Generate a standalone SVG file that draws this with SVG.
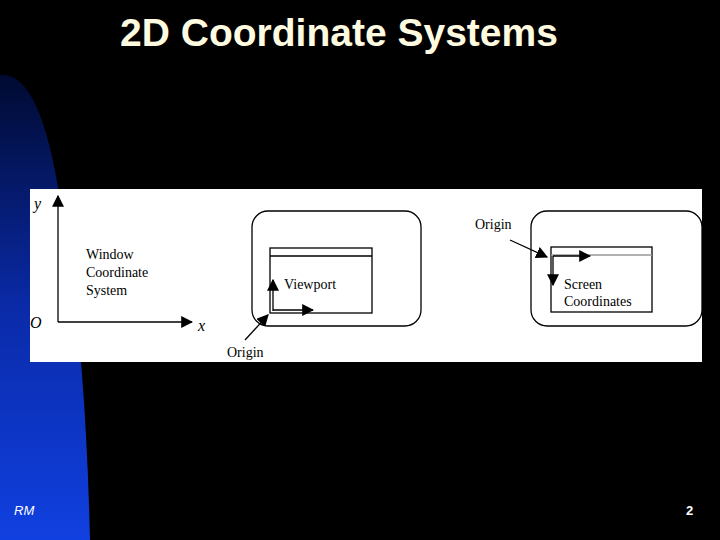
<svg xmlns="http://www.w3.org/2000/svg" width="720" height="540" viewBox="0 0 720 540">
<defs>
<linearGradient id="bg" x1="0" y1="0" x2="0" y2="1">
<stop offset="0" stop-color="#000a30"/><stop offset="0.5" stop-color="#0a2aa8"/><stop offset="1" stop-color="#1040e0"/>
</linearGradient>
<marker id="am" viewBox="0 0 10 10" refX="9" refY="5" markerWidth="12" markerHeight="12" orient="auto" markerUnits="userSpaceOnUse"><path d="M0,0L10,5L0,10z" fill="#000"/></marker>
</defs>
<style>
text.t{font-family:'Liberation Serif','DejaVu Serif',serif;font-size:14px;fill:#000}
text.i{font-style:italic;font-size:16px}
.ln{stroke:#000;stroke-width:1.3;fill:none}
</style>
<rect width="720" height="540" fill="#000"/>
<path d="M0,75 Q40,70 60,200 Q85,330 90,540 L0,540Z" fill="url(#bg)"/>
<text x="339" y="46" text-anchor="middle" font-family="Liberation Sans,sans-serif" font-weight="bold" font-size="39" fill="#fffbe0">2D Coordinate Systems</text>
<rect x="30" y="189" width="672" height="173" fill="#fff"/>
<g id="axes">
<text class="t i" x="34" y="209" font-family="Liberation Serif">y</text>
<text class="t i" x="30" y="328" font-family="Liberation Serif">O</text>
<text class="t i" x="198" y="331" font-family="Liberation Serif">x</text>
</g>
<g id="window-label" font-family="Liberation Serif"><text class="t" x="86" y="259">Window</text><text class="t" x="86" y="277">Coordinate</text><text class="t" x="86" y="295">System</text></g>
<g id="screen1"><rect x="252" y="211" width="169" height="115" rx="16" class="ln"/></g>
<g id="viewport" font-family="Liberation Serif"><rect x="270" y="248" width="102" height="65" class="ln"/><line x1="270" y1="256" x2="372" y2="256" class="ln"/><text class="t" x="284" y="289">Viewport</text></g>
<g id="origin1" font-family="Liberation Serif"><text class="t" x="227" y="357">Origin</text></g>
<g id="screen2"><rect x="531" y="211" width="171" height="115" rx="16" class="ln"/></g>
<g id="screencoords" font-family="Liberation Serif"><rect x="551" y="247" width="101" height="65" class="ln"/><line x1="551" y1="255" x2="652" y2="255" stroke="#999" stroke-width="1.5"/><text class="t" x="564" y="289">Screen</text><text class="t" x="564" y="306">Coordinates</text></g>
<g id="origin2" font-family="Liberation Serif"><text class="t" x="475" y="229">Origin</text></g>
<g id="connectors">
<line x1="58" y1="322" x2="58" y2="196" class="ln" marker-end="url(#am)"/>
<line x1="58" y1="322" x2="192" y2="322" class="ln" marker-end="url(#am)"/>
<line x1="273" y1="311" x2="273" y2="280" class="ln" marker-end="url(#am)"/>
<line x1="273" y1="310" x2="313" y2="310" class="ln" marker-end="url(#am)"/>
<line x1="245" y1="340" x2="268" y2="315" class="ln" marker-end="url(#am)"/>
<line x1="553" y1="256" x2="590" y2="256" class="ln" marker-end="url(#am)"/>
<line x1="553" y1="256" x2="553" y2="285" class="ln" marker-end="url(#am)"/>
<line x1="510" y1="240" x2="547" y2="257" class="ln" marker-end="url(#am)"/>
</g>
<text x="14" y="515" font-family="Liberation Sans,sans-serif" font-style="italic" font-size="13" fill="#fff">RM</text>
<text x="686" y="515" font-family="Liberation Sans,sans-serif" font-weight="bold" font-size="13" fill="#fff">2</text>
</svg>
